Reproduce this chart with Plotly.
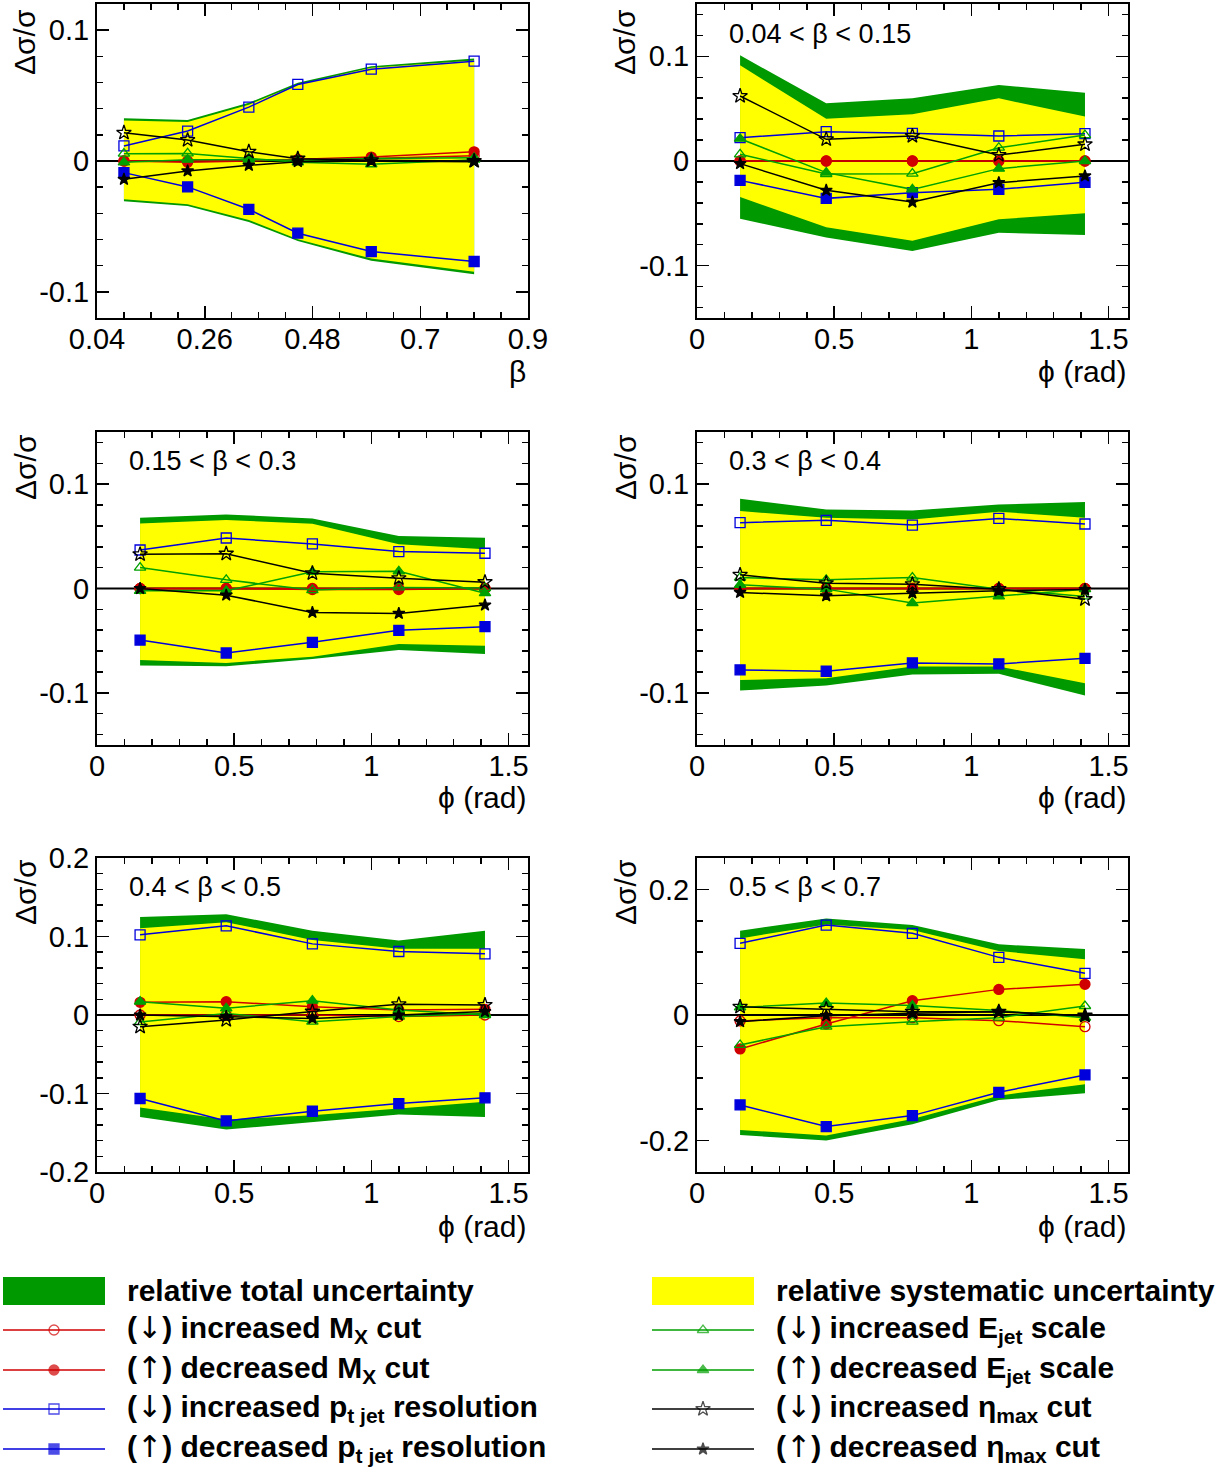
import plotly.graph_objects as go

# ---------------- data ----------------
BETA_CENTERS = [0.095, 0.225, 0.35, 0.45, 0.6, 0.81]
PHI_CENTERS = [0.157, 0.471, 0.785, 1.100, 1.414]

PANEL_LABELS = ["", "0.04 < β < 0.15", "0.15 < β < 0.3", "0.3 < β < 0.4",
                "0.4 < β < 0.5", "0.5 < β < 0.7"]

# relative total uncertainty (upper / lower edge)
TOTAL_UP = [
    [0.0326, 0.0313, 0.0445, 0.0598, 0.0725, 0.0784],
    [0.101, 0.0551, 0.0599, 0.0726, 0.0653],
    [0.0678, 0.0710, 0.0672, 0.0503, 0.0487],
    [0.0860, 0.0758, 0.0748, 0.0806, 0.0828],
    [0.1247, 0.1285, 0.1072, 0.0949, 0.1072],
    [0.1342, 0.1538, 0.1432, 0.1125, 0.1050],
]
TOTAL_LO = [
    [-0.0307, -0.0344, -0.0466, -0.0612, -0.0763, -0.0865],
    [-0.0551, -0.0732, -0.0860, -0.0685, -0.0707],
    [-0.0739, -0.0745, -0.0675, -0.0589, -0.0627],
    [-0.0978, -0.0930, -0.0825, -0.0818, -0.1025],
    [-0.1298, -0.1460, -0.1362, -0.1268, -0.1298],
    [-0.1910, -0.2000, -0.1740, -0.1353, -0.1247],
]
# relative systematic uncertainty (upper / lower edge)
SYST_UP = [
    [0.0310, 0.0298, 0.0430, 0.0585, 0.0712, 0.0768],
    [0.0914, 0.0404, 0.0446, 0.0599, 0.0424],
    [0.0624, 0.0656, 0.0621, 0.0424, 0.0376],
    [0.0742, 0.0678, 0.0662, 0.0736, 0.0678],
    [0.1106, 0.1183, 0.0957, 0.0843, 0.0843],
    [0.1220, 0.1443, 0.1353, 0.1019, 0.0886],
]
SYST_LO = [
    [-0.0293, -0.0330, -0.0450, -0.0598, -0.0746, -0.0847],
    [-0.0344, -0.0634, -0.0761, -0.0557, -0.0500],
    [-0.0685, -0.0713, -0.0653, -0.0532, -0.0548],
    [-0.0876, -0.0860, -0.0748, -0.0748, -0.0908],
    [-0.1179, -0.1332, -0.1277, -0.1191, -0.1106],
    [-0.1830, -0.1920, -0.1655, -0.1284, -0.1103],
]

MX_INC = [
    [0.000, 0.000, 0.001, 0.001, 0.002, 0.004],
    [0.0, 0.0, 0.0, 0.0, 0.0],
    [0.0, 0.0, -0.001, -0.001, 0.0],
    [0.0, 0.0, 0.0, 0.0, 0.0],
    [0.0, 0.0, 0.0, -0.002, 0.0],
    [-0.0095, -0.0042, -0.0042, -0.0090, -0.0186],
]
MX_DEC = [
    [0.000, -0.001, 0.000, 0.001, 0.003, 0.007],
    [0.0, 0.0, 0.0, 0.0, 0.0],
    [0.0, 0.0, 0.0, 0.0, 0.0],
    [0.0, 0.0, 0.0, 0.0, 0.0],
    [0.0162, 0.0170, 0.0106, 0.0064, 0.0072],
    [-0.0541, -0.0143, 0.0228, 0.0408, 0.0488],
]
PT_INC = [
    [0.0115, 0.0229, 0.0412, 0.0585, 0.0702, 0.0763],
    [0.0223, 0.0280, 0.0264, 0.0239, 0.0261],
    [0.0369, 0.0484, 0.0427, 0.0354, 0.0338],
    [0.0631, 0.0653, 0.0608, 0.0672, 0.0618],
    [0.1021, 0.1136, 0.0906, 0.0809, 0.0779],
    [0.1141, 0.1432, 0.1300, 0.0918, 0.0663],
]
PT_DEC = [
    [-0.0089, -0.0198, -0.0369, -0.0552, -0.0692, -0.0768],
    [-0.0185, -0.0357, -0.0303, -0.0271, -0.0204],
    [-0.0494, -0.0618, -0.0516, -0.0401, -0.0366],
    [-0.0780, -0.0793, -0.0713, -0.0723, -0.0669],
    [-0.1064, -0.1349, -0.1226, -0.1128, -0.1055],
    [-0.1432, -0.1777, -0.1602, -0.1231, -0.0955],
]
E_INC = [
    [0.0056, 0.0058, 0.0020, -0.0010, -0.0025, 0.0010],
    [0.0064, -0.0125, -0.0121, 0.0127, 0.0248],
    [0.0201, 0.0083, -0.0015, 0.0010, 0.0005],
    [0.0105, 0.0083, 0.0105, -0.0006, -0.0076],
    [-0.0090, 0.0020, -0.0085, -0.0020, 0.0020],
    [-0.0477, -0.0186, -0.0106, -0.0042, 0.0143],
]
E_DEC = [
    [-0.0010, 0.0010, 0.0010, 0.0005, 0.0020, 0.0025],
    [0.0213, -0.0111, -0.0271, -0.0073, 0.0000],
    [-0.0022, -0.0022, 0.0160, 0.0165, -0.0045],
    [0.0035, -0.0006, -0.0140, -0.0076, -0.0006],
    [0.0170, 0.0085, 0.0183, 0.0064, 0.0000],
    [0.0120, 0.0190, 0.0150, 0.0070, -0.0042],
]
ETA_INC = [
    [0.0216, 0.0160, 0.0071, 0.0018, 0.0005, 0.0000],
    [0.0621, 0.0207, 0.0239, 0.0057, 0.0159],
    [0.0328, 0.0334, 0.0146, 0.0099, 0.0061],
    [0.0131, 0.0051, 0.0041, -0.0006, -0.0102],
    [-0.0149, -0.0064, 0.0043, 0.0136, 0.0128],
    [0.0130, 0.0095, 0.0053, 0.0053, -0.0010],
]
ETA_DEC = [
    [-0.0140, -0.0076, -0.0033, -0.0005, 0.0000, -0.0005],
    [-0.0025, -0.0280, -0.0392, -0.0207, -0.0143],
    [0.0000, -0.0064, -0.0229, -0.0239, -0.0159],
    [-0.0038, -0.0070, -0.0045, -0.0022, -0.0010],
    [0.0000, -0.0020, -0.0043, 0.0000, 0.0043],
    [-0.0106, -0.0010, 0.0027, 0.0053, -0.0016],
]

BETA_TICKS = [0.04, 0.26, 0.48, 0.7, 0.92]
BETA_TICKTEXT = ["0.04", "0.26", "0.48", "0.7", "0.9"]
PHI_TICKS = [0, 0.5, 1, 1.5]
PHI_TICKTEXT = ["0", "0.5", "1", "1.5"]

DN = "<span style=\"font-family:'DejaVu Sans';font-weight:normal;font-size:30px\">↓</span>"
UP = "<span style=\"font-family:'DejaVu Sans';font-weight:normal;font-size:30px\">↑</span>"
LEGEND_LEFT = ["relative total uncertainty",
               "(" + DN + ") increased M<sub>X</sub> cut",
               "(" + UP + ") decreased M<sub>X</sub> cut",
               "(" + DN + ") increased p<sub>t jet</sub> resolution",
               "(" + UP + ") decreased p<sub>t jet</sub> resolution"]
LEGEND_RIGHT = ["relative systematic uncertainty",
                "(" + DN + ") increased E<sub>jet</sub> scale",
                "(" + UP + ") decreased E<sub>jet</sub> scale",
                "(" + DN + ") increased η<sub>max</sub> cut",
                "(" + UP + ") decreased η<sub>max</sub> cut"]

# ---------------- styles ----------------
W, H = 1224, 1479
FONT = "Liberation Sans, Arial, Helvetica, sans-serif"
GREEN_BAND = "#009900"
YELLOW = "#ffff00"
RED = "#d00000"
BLUE = "#0000dd"
GREEN = "#00a000"
BLACK = "#000000"


def px(x):
    return x / W


def py(y):
    return 1 - y / H


SERIES = [  # (data, color, symbol, size)
    (MX_INC, RED, "circle-open", 10),
    (MX_DEC, RED, "circle", 10),
    (PT_INC, BLUE, "square-open", 10),
    (PT_DEC, BLUE, "square", 10),
    (E_INC, GREEN, "triangle-up-open", 10),
    (E_DEC, GREEN, "triangle-up", 10),
    (ETA_INC, BLACK, "star-open", 11),
    (ETA_DEC, BLACK, "star", 9),
]
LEGEND_LEFT_STYLE = [None, SERIES[0], SERIES[1], SERIES[2], SERIES[3]]
LEGEND_RIGHT_STYLE = [None, SERIES[4], SERIES[5], SERIES[6], SERIES[7]]

# pixel boxes of the six frames (left, right, top, bottom)
BOXES = [(97, 528, 4, 318), (697, 1128, 4, 318),
         (97, 528, 432, 745), (697, 1128, 432, 745),
         (97, 528, 858, 1172), (697, 1128, 858, 1172)]
X_RANGES = [[0.04, 0.92]] + [[0.0, 1.5708]] * 5
Y_RANGES = [[-0.12, 0.12], [-0.15, 0.15], [-0.15, 0.15], [-0.15, 0.15],
            [-0.2, 0.2], [-0.25, 0.25]]
Y_TICKS = [[-0.1, 0, 0.1]] * 4 + [[-0.2, -0.1, 0, 0.1, 0.2], [-0.2, 0, 0.2]]
Y_MINOR = [0.02, 0.02, 0.02, 0.02, 0.02, 0.05]

TICKFONT = dict(family=FONT, size=29, color="black")


def fmt(v):
    return "%g" % v


fig = go.Figure()
layout_axes = {}
for i in range(6):
    n = i + 1
    xa = "x" if n == 1 else "x%d" % n
    ya = "y" if n == 1 else "y%d" % n
    xs = BETA_CENTERS if i == 0 else PHI_CENTERS
    # bands
    fig.add_trace(go.Scatter(x=xs + xs[::-1], y=TOTAL_UP[i] + TOTAL_LO[i][::-1],
                             fill="toself", fillcolor=GREEN_BAND, mode="lines",
                             line=dict(width=0, color=GREEN_BAND),
                             xaxis=xa, yaxis=ya, showlegend=False, hoverinfo="skip"))
    fig.add_trace(go.Scatter(x=xs + xs[::-1], y=SYST_UP[i] + SYST_LO[i][::-1],
                             fill="toself", fillcolor=YELLOW, mode="lines",
                             line=dict(width=0, color=YELLOW),
                             xaxis=xa, yaxis=ya, showlegend=False, hoverinfo="skip"))
    # zero line
    fig.add_trace(go.Scatter(x=X_RANGES[i], y=[0, 0], mode="lines",
                             line=dict(color="black", width=2),
                             xaxis=xa, yaxis=ya, showlegend=False, hoverinfo="skip"))
    for data, col, sym, sz in SERIES:
        fig.add_trace(go.Scatter(x=xs, y=data[i], mode="lines+markers",
                                 line=dict(color=col, width=1.5),
                                 marker=dict(symbol=sym, size=sz, color=col,
                                             line=dict(color=col, width=1.3)),
                                 xaxis=xa, yaxis=ya, showlegend=False, cliponaxis=False))
    l, r, t, b = BOXES[i]
    axcommon = dict(showline=True, linecolor="black", linewidth=2, mirror="allticks",
                    ticks="inside", ticklen=12, tickwidth=1.5, tickcolor="black",
                    showgrid=False, zeroline=False, tickfont=TICKFONT, fixedrange=True,
                    automargin=False)
    if i == 0:
        xt = dict(tickmode="array", tickvals=BETA_TICKS, ticktext=BETA_TICKTEXT,
                  minor=dict(ticks="inside", ticklen=6, tickwidth=1.5, tickcolor="black",
                             tickmode="linear", tick0=0.04, dtick=0.055, showgrid=False))
    else:
        xt = dict(tickmode="array", tickvals=PHI_TICKS, ticktext=PHI_TICKTEXT,
                  minor=dict(ticks="inside", ticklen=6, tickwidth=1.5, tickcolor="black",
                             tickmode="linear", tick0=0, dtick=0.1, showgrid=False))
    layout_axes["xaxis" if n == 1 else "xaxis%d" % n] = dict(
        domain=[px(l), px(r)], range=X_RANGES[i], anchor=ya, ticklabelstandoff=-6,
        **xt, **axcommon)
    layout_axes["yaxis" if n == 1 else "yaxis%d" % n] = dict(
        domain=[py(b), py(t)], range=Y_RANGES[i], anchor=xa,
        tickmode="array", tickvals=Y_TICKS[i], ticktext=[fmt(v) for v in Y_TICKS[i]],
        minor=dict(ticks="inside", ticklen=6, tickwidth=1.5, tickcolor="black",
                   tickmode="linear", tick0=0, dtick=Y_MINOR[i], showgrid=False),
        **axcommon)

# overlay axis in page-pixel units for the legend samples
layout_axes["xaxis7"] = dict(domain=[0, 1], range=[0, W], visible=False,
                             fixedrange=True, anchor="y7", automargin=False)
layout_axes["yaxis7"] = dict(domain=[0, 1], range=[H, 0], visible=False,
                             fixedrange=True, anchor="x7", automargin=False)

annotations = []
shapes = []
# panel labels, y titles, x titles
YT_Y = [42, 42, 467, 467, 892, 892]
XT_Y = [372, 372, 797, 797, 1226, 1226]
LBL_Y = [34, 34, 461, 461, 887, 887]
for i in range(6):
    l, r, t, b = BOXES[i]
    annotations.append(dict(text="Δσ/σ", x=px(l - 72), y=py(YT_Y[i]),
                            xref="paper", yref="paper", showarrow=False, textangle=-90,
                            xanchor="center", yanchor="middle",
                            font=dict(family=FONT, size=30, color="black")))
    annotations.append(dict(text="β" if i == 0 else "ϕ (rad)", x=px(r), y=py(XT_Y[i]),
                            xref="paper", yref="paper", showarrow=False,
                            xanchor="right", yanchor="middle",
                            font=dict(family=FONT, size=30, color="black")))
    if PANEL_LABELS[i]:
        annotations.append(dict(text=PANEL_LABELS[i], x=px(l + 30), y=py(LBL_Y[i]),
                                xref="paper", yref="paper", showarrow=False,
                                xanchor="left", yanchor="middle",
                                font=dict(family=FONT, size=27, color="black")))

# legend
ROW_Y = [1291, 1330, 1370, 1409, 1449]
COLS = [(3, 105, 125, LEGEND_LEFT, LEGEND_LEFT_STYLE, GREEN_BAND),
        (652, 754, 774, LEGEND_RIGHT, LEGEND_RIGHT_STYLE, YELLOW)]
for x0, x1, xtxt, texts, styles, boxcol in COLS:
    for k, (txt, st) in enumerate(zip(texts, styles)):
        yy = ROW_Y[k]
        if st is None:
            shapes.append(dict(type="rect", xref="paper", yref="paper",
                               x0=px(x0), x1=px(x1), y0=py(yy + 14), y1=py(yy - 14),
                               fillcolor=boxcol, line=dict(width=0)))
        else:
            data, col, sym, sz = st
            fig.add_trace(go.Scatter(x=[x0, (x0 + x1) / 2, x1], y=[yy, yy, yy],
                                     mode="lines+markers", xaxis="x7", yaxis="y7",
                                     line=dict(color=col, width=1.5),
                                     marker=dict(symbol=sym, size=[0, sz, 0], color=col,
                                                 line=dict(color=col, width=1.3)),
                                     showlegend=False, hoverinfo="skip", cliponaxis=False))
        annotations.append(dict(text="<b>%s</b>" % txt, x=px(xtxt), y=py(yy - 1),
                                xref="paper", yref="paper", showarrow=False,
                                xanchor="left", yanchor="middle",
                                font=dict(family=FONT, size=30, color="black")))

fig.update_layout(template="none", width=W, height=H,
                  margin=dict(l=0, r=0, t=0, b=0, autoexpand=False),
                  paper_bgcolor="white", plot_bgcolor="rgba(0,0,0,0)",
                  showlegend=False, annotations=annotations, shapes=shapes,
                  font=dict(family=FONT, color="black"), **layout_axes)

fig.write_html("out.html", config={"displayModeBar": False, "staticPlot": True},
               post_script="document.body.style.margin='0px';")
